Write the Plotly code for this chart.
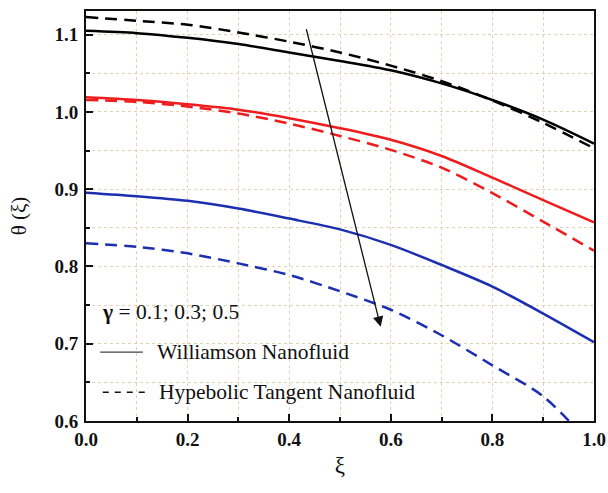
import plotly.graph_objects as go

# ---- data ----
xi = [0.0, 0.1, 0.2, 0.3, 0.4, 0.5, 0.6, 0.7, 0.8, 0.9, 1.0]

williamson_g01 = [1.105, 1.102, 1.096, 1.088, 1.077, 1.066, 1.054, 1.037, 1.0155, 0.990, 0.959]
tangent_g01    = [1.123, 1.118, 1.113, 1.103, 1.091, 1.077, 1.060, 1.040, 1.015, 0.986, 0.953]

williamson_g03 = [1.019, 1.0155, 1.010, 1.003, 0.992, 0.979, 0.964, 0.943, 0.915, 0.886, 0.857]
tangent_g03    = [1.0155, 1.013, 1.007, 0.998, 0.985, 0.969, 0.951, 0.928, 0.895, 0.858, 0.8205]

williamson_g05 = [0.8956, 0.891, 0.885, 0.875, 0.862, 0.848, 0.828, 0.802, 0.774, 0.739, 0.702]
tangent_g05    = [0.830, 0.8255, 0.817, 0.804, 0.789, 0.768, 0.744, 0.711, 0.672, 0.632, 0.565]

series_colors = ["#000000", "#ee1c1c", "#1c2fae"]

arrow_start = (0.433, 1.109)
arrow_end = (0.580, 0.722)

legend_title = "<b>γ</b> = 0.1; 0.3; 0.5"
legend_labels = ["Williamson Nanofluid", "Hypebolic Tangent Nanofluid"]

x_ticks = [0.0, 0.2, 0.4, 0.6, 0.8, 1.0]
y_ticks = [0.6, 0.7, 0.8, 0.9, 1.0, 1.1]

FONT = "Liberation Serif, Times New Roman, serif"
DASH = "12px,7px"

fig = go.Figure()
pairs = [(williamson_g01, tangent_g01), (williamson_g03, tangent_g03), (williamson_g05, tangent_g05)]
for (w, t), c in zip(pairs, series_colors):
    fig.add_trace(go.Scatter(x=xi, y=w, mode="lines", line=dict(color=c, width=2.5, shape="spline", smoothing=0.8),
                             showlegend=False, hoverinfo="skip"))
    fig.add_trace(go.Scatter(x=xi, y=t, mode="lines", line=dict(color=c, width=2.5, dash=DASH, shape="spline", smoothing=0.8),
                             showlegend=False, hoverinfo="skip"))

# arrow
fig.add_annotation(x=arrow_end[0], y=arrow_end[1], ax=arrow_start[0], ay=arrow_start[1],
                   xref="x", yref="y", axref="x", ayref="y", showarrow=True,
                   arrowhead=2, arrowsize=1.6, arrowwidth=1.3, arrowcolor="#111111", text="")

# custom legend block (paper coordinates)
TXT = dict(family=FONT, size=21.5, color="#111111")
fig.add_annotation(x=0.028, y=0.266, xref="paper", yref="paper", text=legend_title, showarrow=False,
                   xanchor="left", yanchor="middle", font=TXT)
fig.add_shape(type="line", xref="paper", yref="paper", x0=0.028, x1=0.112, y0=0.168, y1=0.168,
              line=dict(color="#444444", width=1.2))
fig.add_annotation(x=0.135, y=0.168, xref="paper", yref="paper", text=legend_labels[0], showarrow=False,
                   xanchor="left", yanchor="middle", font=TXT)
fig.add_shape(type="line", xref="paper", yref="paper", x0=0.033, x1=0.12, y0=0.07, y1=0.07,
              line=dict(color="#111111", width=1.5, dash="6px,6px"))
fig.add_annotation(x=0.139, y=0.07, xref="paper", yref="paper", text=legend_labels[1], showarrow=False,
                   xanchor="left", yanchor="middle", font=TXT)

grid_col = "#e3d2b0"
fig.update_xaxes(range=[0, 1], tickvals=x_ticks, ticktext=[f"<b>{v:.1f}</b>" for v in x_ticks],
                 ticks="inside", ticklen=7, tickwidth=1.8, tickcolor="#111111",
                 showline=True, linecolor="#111111", linewidth=2, mirror=True,
                 showgrid=True, gridcolor=grid_col, griddash="dot", gridwidth=1,
                 minor=dict(dtick=0.1, ticks="inside", ticklen=4, tickwidth=1.5, tickcolor="#111111",
                            showgrid=True, gridcolor=grid_col, griddash="dot"),
                 tickfont=dict(family=FONT, size=19, color="#111111"),
                 ticklabelstandoff=0, ticklabeloverflow="allow", automargin=False,
                 title=dict(text="ξ", font=dict(family=FONT, size=23, color="#111111"), standoff=8),
                 zeroline=False)
fig.update_yaxes(range=[0.6, 1.1307], tickvals=y_ticks, ticktext=[f"<b>{v:.1f}</b>" for v in y_ticks],
                 ticks="inside", ticklen=7, tickwidth=1.8, tickcolor="#111111",
                 showline=True, linecolor="#111111", linewidth=2, mirror=True,
                 showgrid=True, gridcolor=grid_col, griddash="dot", gridwidth=1,
                 minor=dict(dtick=0.05, ticks="inside", ticklen=4, tickwidth=1.5, tickcolor="#111111",
                            showgrid=True, gridcolor=grid_col, griddash="dot"),
                 tickfont=dict(family=FONT, size=19, color="#111111"),
                 ticklabelstandoff=2, automargin=False,
                 title=dict(text="θ (ξ)", font=dict(family=FONT, size=21, color="#111111"), standoff=22),
                 zeroline=False)

fig.update_layout(width=608, height=493, margin=dict(l=86, r=14, t=11, b=72),
                  plot_bgcolor="white", paper_bgcolor="white", showlegend=False,
                  font=dict(family=FONT))

# remove the default 8px page margin so the figure fills the window exactly
fig.write_html("out.html", config={"displayModeBar": False},
               post_script="document.body.style.margin='0px';document.body.style.overflow='hidden';")
